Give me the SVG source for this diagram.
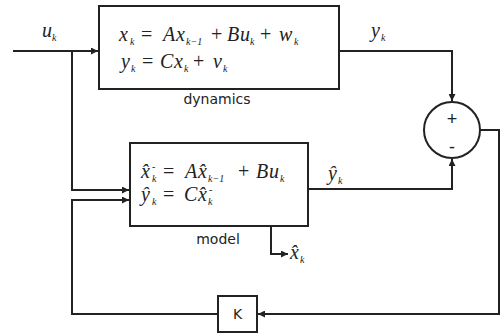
<svg xmlns="http://www.w3.org/2000/svg" width="502" height="334" viewBox="0 0 502 334">
<style>
.box{fill:#fff;stroke:#222;stroke-width:2}
.ln{fill:none;stroke:#222;stroke-width:2}
.eq{font-family:"Liberation Serif",serif;font-style:italic;font-size:20px;fill:#222}
.op{font-style:normal}
.sub{font-size:10px}
.lbl{font-family:"DejaVu Sans","Liberation Sans",sans-serif;font-size:14px;fill:#222}
.sign{font-family:"Liberation Sans",sans-serif;font-size:18px;fill:#222}
</style>
<defs>
<marker id="ah" viewBox="0 0 10 10" refX="10" refY="5" markerWidth="7" markerHeight="7" markerUnits="userSpaceOnUse" orient="auto">
<path d="M0,0 L10,5 L0,10 z" fill="#222"/>
</marker>
</defs>
<rect width="502" height="334" fill="#fff"/>
<g id="connectors">
<path class="ln" d="M13,51 H98" marker-end="url(#ah)"/>
<path class="ln" d="M72,51 V190 H129" marker-end="url(#ah)"/>
<path class="ln" d="M339,51 H452 V101" marker-end="url(#ah)"/>
<path class="ln" d="M308,189 H452 V159" marker-end="url(#ah)"/>
<path class="ln" d="M480,130 H499 V314 H258" marker-end="url(#ah)"/>
<path class="ln" d="M218,314 H72 V200 H129" marker-end="url(#ah)"/>
<path class="ln" d="M271,226 V254 H288" marker-end="url(#ah)"/>
</g>
<g id="dynamics">
<rect class="box" x="99" y="6" width="240" height="83"/>
<text class="eq"><tspan x="119" y="41">x</tspan><tspan class="sub" x="130" y="45">k</tspan><tspan class="op" x="141" y="41">=</tspan><tspan x="163" y="41">A</tspan><tspan x="176" y="41">x</tspan><tspan class="sub" x="186" y="45">k−1</tspan><tspan class="op" x="211" y="41">+</tspan><tspan x="227" y="41">B</tspan><tspan x="240" y="41">u</tspan><tspan class="sub" x="250" y="45">k</tspan><tspan class="op" x="260" y="41">+</tspan><tspan x="279" y="41">w</tspan><tspan class="sub" x="294" y="45">k</tspan></text>
<text class="eq"><tspan x="121" y="68">y</tspan><tspan class="sub" x="131" y="72">k</tspan><tspan class="op" x="142" y="68">=</tspan><tspan x="160" y="68">C</tspan><tspan x="174" y="68">x</tspan><tspan class="sub" x="184" y="72">k</tspan><tspan class="op" x="193" y="68">+</tspan><tspan x="213" y="68">v</tspan><tspan class="sub" x="223" y="72">k</tspan></text>
<text class="lbl" x="217" y="104" text-anchor="middle">dynamics</text>
</g>
<g id="model">
<rect class="box" x="130" y="143" width="178" height="83"/>
<text class="eq"><tspan x="141" y="178">x̂</tspan><tspan class="sub" x="152" y="182">k</tspan><tspan class="sub" x="152" y="170">-</tspan><tspan class="op" x="163" y="178">=</tspan><tspan x="185" y="178">A</tspan><tspan x="198" y="178">x̂</tspan><tspan class="sub" x="208" y="182">k−1</tspan><tspan class="op" x="238" y="178">+</tspan><tspan x="256" y="178">B</tspan><tspan x="269" y="178">u</tspan><tspan class="sub" x="280" y="182">k</tspan></text>
<text class="eq"><tspan x="141" y="201">ŷ</tspan><tspan class="sub" x="152" y="205">k</tspan><tspan class="op" x="163" y="201">=</tspan><tspan x="184" y="201">C</tspan><tspan x="198" y="201">x̂</tspan><tspan class="sub" x="208" y="205">k</tspan><tspan class="sub" x="209" y="193">-</tspan></text>
<text class="lbl" x="218" y="244" text-anchor="middle">model</text>
</g>
<g id="sum">
<circle class="box" cx="452" cy="130" r="28"/>
<text class="sign" x="452" y="125" text-anchor="middle">+</text>
<text class="sign" x="452" y="153" text-anchor="middle">-</text>
</g>
<g id="K">
<rect class="box" x="218" y="296" width="39" height="36"/>
<text class="lbl" x="237.5" y="319" text-anchor="middle">K</text>
</g>
<g id="labels">
<text class="eq"><tspan x="42" y="37">u</tspan><tspan class="sub" x="52" y="41">k</tspan></text>
<text class="eq"><tspan x="371" y="37">y</tspan><tspan class="sub" x="381" y="41">k</tspan></text>
<text class="eq"><tspan x="328" y="180">ŷ</tspan><tspan class="sub" x="338" y="184">k</tspan></text>
<text class="eq"><tspan x="290" y="259">x̂</tspan><tspan class="sub" x="300" y="263">k</tspan></text>
</g>
</svg>
